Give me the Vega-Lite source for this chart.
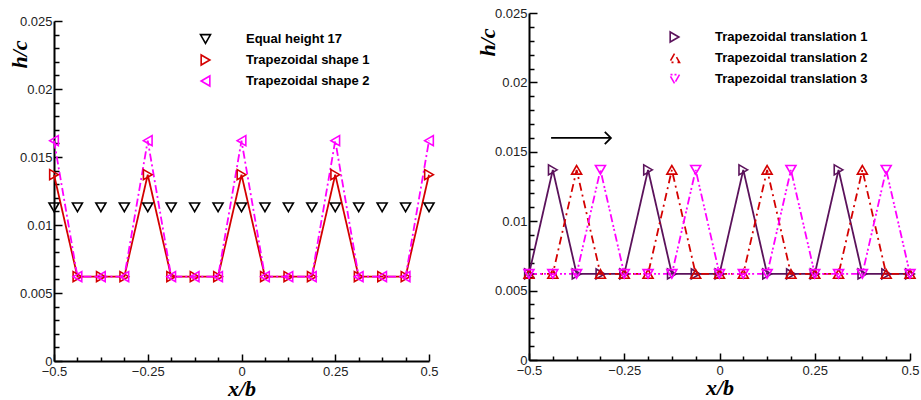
{
  "$schema": "https://vega.github.io/schema/vega-lite/v6.json",
  "background": "white",
  "padding": {"left": 8, "top": 7, "right": 2, "bottom": 0},
  "spacing": 37,
  "datasets": {
    "left": [
      {"s":"Equal height 17","x":-0.5,"h":0.0113},{"s":"Equal height 17","x":-0.4375,"h":0.0113},{"s":"Equal height 17","x":-0.375,"h":0.0113},{"s":"Equal height 17","x":-0.3125,"h":0.0113},{"s":"Equal height 17","x":-0.25,"h":0.0113},{"s":"Equal height 17","x":-0.1875,"h":0.0113},{"s":"Equal height 17","x":-0.125,"h":0.0113},{"s":"Equal height 17","x":-0.0625,"h":0.0113},{"s":"Equal height 17","x":0,"h":0.0113},{"s":"Equal height 17","x":0.0625,"h":0.0113},{"s":"Equal height 17","x":0.125,"h":0.0113},{"s":"Equal height 17","x":0.1875,"h":0.0113},{"s":"Equal height 17","x":0.25,"h":0.0113},{"s":"Equal height 17","x":0.3125,"h":0.0113},{"s":"Equal height 17","x":0.375,"h":0.0113},{"s":"Equal height 17","x":0.4375,"h":0.0113},{"s":"Equal height 17","x":0.5,"h":0.0113},
      {"s":"Trapezoidal shape 1","x":-0.5,"h":0.0137},{"s":"Trapezoidal shape 1","x":-0.4375,"h":0.0062},{"s":"Trapezoidal shape 1","x":-0.375,"h":0.0062},{"s":"Trapezoidal shape 1","x":-0.3125,"h":0.0062},{"s":"Trapezoidal shape 1","x":-0.25,"h":0.0137},{"s":"Trapezoidal shape 1","x":-0.1875,"h":0.0062},{"s":"Trapezoidal shape 1","x":-0.125,"h":0.0062},{"s":"Trapezoidal shape 1","x":-0.0625,"h":0.0062},{"s":"Trapezoidal shape 1","x":0,"h":0.0137},{"s":"Trapezoidal shape 1","x":0.0625,"h":0.0062},{"s":"Trapezoidal shape 1","x":0.125,"h":0.0062},{"s":"Trapezoidal shape 1","x":0.1875,"h":0.0062},{"s":"Trapezoidal shape 1","x":0.25,"h":0.0137},{"s":"Trapezoidal shape 1","x":0.3125,"h":0.0062},{"s":"Trapezoidal shape 1","x":0.375,"h":0.0062},{"s":"Trapezoidal shape 1","x":0.4375,"h":0.0062},{"s":"Trapezoidal shape 1","x":0.5,"h":0.0137},
      {"s":"Trapezoidal shape 2","x":-0.5,"h":0.0162},{"s":"Trapezoidal shape 2","x":-0.4375,"h":0.0062},{"s":"Trapezoidal shape 2","x":-0.375,"h":0.0062},{"s":"Trapezoidal shape 2","x":-0.3125,"h":0.0062},{"s":"Trapezoidal shape 2","x":-0.25,"h":0.0162},{"s":"Trapezoidal shape 2","x":-0.1875,"h":0.0062},{"s":"Trapezoidal shape 2","x":-0.125,"h":0.0062},{"s":"Trapezoidal shape 2","x":-0.0625,"h":0.0062},{"s":"Trapezoidal shape 2","x":0,"h":0.0162},{"s":"Trapezoidal shape 2","x":0.0625,"h":0.0062},{"s":"Trapezoidal shape 2","x":0.125,"h":0.0062},{"s":"Trapezoidal shape 2","x":0.1875,"h":0.0062},{"s":"Trapezoidal shape 2","x":0.25,"h":0.0162},{"s":"Trapezoidal shape 2","x":0.3125,"h":0.0062},{"s":"Trapezoidal shape 2","x":0.375,"h":0.0062},{"s":"Trapezoidal shape 2","x":0.4375,"h":0.0062},{"s":"Trapezoidal shape 2","x":0.5,"h":0.0162}
    ],
    "right": [
      {"s":"Trapezoidal translation 1","x":-0.5,"h":0.0062},{"s":"Trapezoidal translation 1","x":-0.4375,"h":0.0137},{"s":"Trapezoidal translation 1","x":-0.375,"h":0.0062},{"s":"Trapezoidal translation 1","x":-0.3125,"h":0.0062},{"s":"Trapezoidal translation 1","x":-0.25,"h":0.0062},{"s":"Trapezoidal translation 1","x":-0.1875,"h":0.0137},{"s":"Trapezoidal translation 1","x":-0.125,"h":0.0062},{"s":"Trapezoidal translation 1","x":-0.0625,"h":0.0062},{"s":"Trapezoidal translation 1","x":0,"h":0.0062},{"s":"Trapezoidal translation 1","x":0.0625,"h":0.0137},{"s":"Trapezoidal translation 1","x":0.125,"h":0.0062},{"s":"Trapezoidal translation 1","x":0.1875,"h":0.0062},{"s":"Trapezoidal translation 1","x":0.25,"h":0.0062},{"s":"Trapezoidal translation 1","x":0.3125,"h":0.0137},{"s":"Trapezoidal translation 1","x":0.375,"h":0.0062},{"s":"Trapezoidal translation 1","x":0.4375,"h":0.0062},{"s":"Trapezoidal translation 1","x":0.5,"h":0.0062},
      {"s":"Trapezoidal translation 2","x":-0.5,"h":0.0062},{"s":"Trapezoidal translation 2","x":-0.4375,"h":0.0062},{"s":"Trapezoidal translation 2","x":-0.375,"h":0.0137},{"s":"Trapezoidal translation 2","x":-0.3125,"h":0.0062},{"s":"Trapezoidal translation 2","x":-0.25,"h":0.0062},{"s":"Trapezoidal translation 2","x":-0.1875,"h":0.0062},{"s":"Trapezoidal translation 2","x":-0.125,"h":0.0137},{"s":"Trapezoidal translation 2","x":-0.0625,"h":0.0062},{"s":"Trapezoidal translation 2","x":0,"h":0.0062},{"s":"Trapezoidal translation 2","x":0.0625,"h":0.0062},{"s":"Trapezoidal translation 2","x":0.125,"h":0.0137},{"s":"Trapezoidal translation 2","x":0.1875,"h":0.0062},{"s":"Trapezoidal translation 2","x":0.25,"h":0.0062},{"s":"Trapezoidal translation 2","x":0.3125,"h":0.0062},{"s":"Trapezoidal translation 2","x":0.375,"h":0.0137},{"s":"Trapezoidal translation 2","x":0.4375,"h":0.0062},{"s":"Trapezoidal translation 2","x":0.5,"h":0.0062},
      {"s":"Trapezoidal translation 3","x":-0.5,"h":0.0062},{"s":"Trapezoidal translation 3","x":-0.4375,"h":0.0062},{"s":"Trapezoidal translation 3","x":-0.375,"h":0.0062},{"s":"Trapezoidal translation 3","x":-0.3125,"h":0.0137},{"s":"Trapezoidal translation 3","x":-0.25,"h":0.0062},{"s":"Trapezoidal translation 3","x":-0.1875,"h":0.0062},{"s":"Trapezoidal translation 3","x":-0.125,"h":0.0062},{"s":"Trapezoidal translation 3","x":-0.0625,"h":0.0137},{"s":"Trapezoidal translation 3","x":0,"h":0.0062},{"s":"Trapezoidal translation 3","x":0.0625,"h":0.0062},{"s":"Trapezoidal translation 3","x":0.125,"h":0.0062},{"s":"Trapezoidal translation 3","x":0.1875,"h":0.0137},{"s":"Trapezoidal translation 3","x":0.25,"h":0.0062},{"s":"Trapezoidal translation 3","x":0.3125,"h":0.0062},{"s":"Trapezoidal translation 3","x":0.375,"h":0.0062},{"s":"Trapezoidal translation 3","x":0.4375,"h":0.0137},{"s":"Trapezoidal translation 3","x":0.5,"h":0.0062}
    ],
    "arrow": [{"x": -0.442, "x2": -0.285, "h": 0.016}]
  },
  "config": {
    "view": {"stroke": null},
    "axis": {
      "grid": false,
      "domainColor": "black",
      "domainWidth": 2,
      "tickColor": "black",
      "tickWidth": 1.5,
      "labelFont": "Liberation Sans",
      "labelFontSize": 13,
      "labelColor": "#222",
      "labelFlush": false,
      "labelOverlap": false,
      "titleFont": "Liberation Serif",
      "titleFontSize": 22,
      "titleFontWeight": "bold",
      "titleFontStyle": "italic",
      "titleColor": "black"
    },
    "legend": {
      "orient": "none",
      "title": null,
      "padding": 0,
      "symbolSize": 100,
      "symbolStrokeWidth": 1.6,
      "rowPadding": 4,
      "labelFont": "Liberation Sans",
      "labelFontSize": 13,
      "labelFontWeight": "bold",
      "labelColor": "black",
      "labelOffset": 34
    }
  },
  "resolve": {"scale": {"color": "independent", "shape": "independent", "strokeDash": "independent"}},
  "hconcat": [
    {
      "width": 375,
      "height": 348,
      "data": {"name": "left"},
      "encoding": {
        "x": {
          "field": "x", "type": "quantitative",
          "scale": {"domain": [-0.5, 0.5], "nice": false, "zero": false},
          "axis": {
            "title": "x/b",
            "values": [-0.5,-0.4375,-0.375,-0.3125,-0.25,-0.1875,-0.125,-0.0625,0,0.0625,0.125,0.1875,0.25,0.3125,0.375,0.4375,0.5],
            "format": "~g",
            "labelExpr": "abs(datum.value*4 - round(datum.value*4)) < 1e-6 ? datum.label : ''",
            "tickSize": {"condition": {"test": "abs(datum.value*4 - round(datum.value*4)) < 1e-6", "value": -7}, "value": -4},
            "labelPadding": 11,
            "titlePadding": -3
          }
        },
        "y": {
          "field": "h", "type": "quantitative",
          "scale": {"domain": [0, 0.025], "nice": false, "range": [348, 8]},
          "axis": {
            "title": "h/c",
            "values": [0,0.001,0.002,0.003,0.004,0.005,0.006,0.007,0.008,0.009,0.01,0.011,0.012,0.013,0.014,0.015,0.016,0.017,0.018,0.019,0.02,0.021,0.022,0.023,0.024,0.025],
            "format": "~g",
            "labelExpr": "abs(datum.value*200 - round(datum.value*200)) < 1e-6 ? datum.label : ''",
            "tickSize": {"condition": {"test": "abs(datum.value*200 - round(datum.value*200)) < 1e-6", "value": -8}, "value": -5},
            "labelPadding": 10,
            "titleAngle": -90,
            "titleX": -35,
            "titleY": 41,
            "titleAlign": "center",
            "titleBaseline": "middle"
          }
        },
        "color": {
          "field": "s", "type": "nominal",
          "scale": {"domain": ["Equal height 17", "Trapezoidal shape 1", "Trapezoidal shape 2"], "range": ["black", "#d40000", "#ff00ff"]},
          "legend": {
            "legendX": 145,
            "legendY": 19.5,
            "encode": {
              "symbols": {
                "update": {
                  "strokeDash": {"value": {"expr": "datum.value === 'Trapezoidal shape 2' ? [8,3,2,3] : [1,0]"}},
                  "fill": {"value": "transparent"},
                  "opacity": {"value": 1},
                  "strokeWidth": {"value": 1.6}
                }
              }
            }
          }
        }
      },
      "layer": [
        {
          "transform": [{"filter": "datum.s !== 'Equal height 17'"}],
          "mark": {"type": "line", "strokeWidth": 1.8},
          "encoding": {
            "strokeDash": {
              "field": "s", "type": "nominal",
              "scale": {"domain": ["Trapezoidal shape 1", "Trapezoidal shape 2"], "range": [[1, 0], [8, 3, 2, 3]]},
              "legend": null
            }
          }
        },
        {
          "mark": {"type": "point", "filled": false, "size": 100, "strokeWidth": 1.6, "opacity": 1},
          "encoding": {
            "shape": {
              "field": "s", "type": "nominal",
              "scale": {"domain": ["Equal height 17", "Trapezoidal shape 1", "Trapezoidal shape 2"], "range": ["triangle-down", "triangle-right", "triangle-left"]},
              "legend": null
            }
          }
        }
      ]
    },
    {
      "width": 381,
      "height": 347,
      "data": {"name": "right"},
      "encoding": {
        "x": {
          "field": "x", "type": "quantitative",
          "scale": {"domain": [-0.5, 0.5], "nice": false, "zero": false},
          "axis": {
            "title": "x/b",
            "values": [-0.5,-0.4375,-0.375,-0.3125,-0.25,-0.1875,-0.125,-0.0625,0,0.0625,0.125,0.1875,0.25,0.3125,0.375,0.4375,0.5],
            "format": "~g",
            "labelExpr": "abs(datum.value*4 - round(datum.value*4)) < 1e-6 ? datum.label : ''",
            "tickSize": {"condition": {"test": "abs(datum.value*4 - round(datum.value*4)) < 1e-6", "value": -7}, "value": -4},
            "labelPadding": 11,
            "titlePadding": -3
          }
        },
        "y": {
          "field": "h", "type": "quantitative",
          "scale": {"domain": [0, 0.025], "nice": false},
          "axis": {
            "title": "h/c",
            "values": [0,0.001,0.002,0.003,0.004,0.005,0.006,0.007,0.008,0.009,0.01,0.011,0.012,0.013,0.014,0.015,0.016,0.017,0.018,0.019,0.02,0.021,0.022,0.023,0.024,0.025],
            "format": "~g",
            "labelExpr": "abs(datum.value*200 - round(datum.value*200)) < 1e-6 ? datum.label : ''",
            "tickSize": {"condition": {"test": "abs(datum.value*200 - round(datum.value*200)) < 1e-6", "value": -8}, "value": -5},
            "labelPadding": 10,
            "titleAngle": -90,
            "titleX": -42,
            "titleY": 29,
            "titleAlign": "center",
            "titleBaseline": "middle"
          }
        },
        "color": {
          "field": "s", "type": "nominal",
          "scale": {"domain": ["Trapezoidal translation 1", "Trapezoidal translation 2", "Trapezoidal translation 3"], "range": ["#5b125b", "#d40000", "#ff00ff"]},
          "legend": {
            "legendX": 139,
            "legendY": 17.5,
            "encode": {
              "symbols": {
                "update": {
                  "fill": {"value": "transparent"},
                  "opacity": {"value": 1},
                  "strokeWidth": {"value": 1.6}
                }
              }
            }
          }
        }
      },
      "layer": [
        {
          "mark": {"type": "line", "strokeWidth": 1.8},
          "encoding": {
            "strokeDash": {
              "field": "s", "type": "nominal",
              "scale": {"domain": ["Trapezoidal translation 1", "Trapezoidal translation 2", "Trapezoidal translation 3"], "range": [[1, 0], [8, 4, 2, 4], [8, 3, 2, 2, 2, 3]]},
              "legend": null
            }
          }
        },
        {
          "mark": {"type": "point", "filled": false, "size": 100, "strokeWidth": 1.6, "opacity": 1},
          "encoding": {
            "shape": {
              "field": "s", "type": "nominal",
              "scale": {"domain": ["Trapezoidal translation 1", "Trapezoidal translation 2", "Trapezoidal translation 3"], "range": ["triangle-right", "triangle-up", "triangle-down"]},
              "legend": null
            }
          }
        },
        {
          "data": {"name": "arrow"},
          "mark": {"type": "rule", "strokeWidth": 1.8},
          "encoding": {"x2": {"field": "x2"}, "color": {"value": "black"}}
        },
        {
          "data": {"name": "arrow"},
          "mark": {"type": "point", "shape": "M-1,-1L0,0L-1,1", "filled": false, "size": 150, "strokeWidth": 1.8, "opacity": 1},
          "encoding": {"x": {"field": "x2", "type": "quantitative"}, "color": {"value": "black"}}
        }
      ]
    }
  ]
}
